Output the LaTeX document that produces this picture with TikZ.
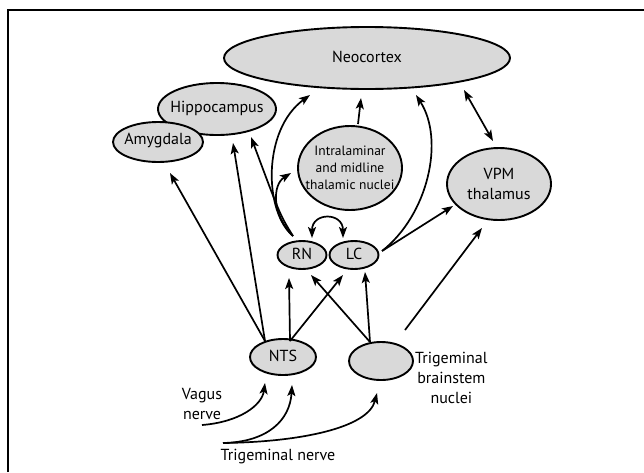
\documentclass[tikz,border=0pt]{standalone}
\usepackage{fontspec}
\setmainfont{PT Sans}
\usetikzlibrary{shapes.geometric,arrows.meta}
\begin{document}
\begin{tikzpicture}[x=1pt,y=-1pt,
  region/.style={ellipse,draw,fill=gray!30,line width=1.9pt,inner sep=0pt},
  txt/.style={font=\fontsize{16}{20}\selectfont,align=center,inner sep=0pt},
  small/.style={font=\fontsize{13.5}{17}\selectfont,align=center,inner sep=0pt},
  conn/.style={line width=1.7pt,-{Stealth[length=11pt,width=8pt,inset=2.5pt]}},
  biconn/.style={line width=1.7pt,{Stealth[length=11pt,width=8pt,inset=2.5pt]}-{Stealth[length=11pt,width=8pt,inset=2.5pt]}}]
\useasboundingbox (0,0) rectangle (644,472);
\draw[line width=1.5pt] (8,472) -- (8,10) -- (644,10);
% regions
\node[region,minimum width=286,minimum height=62] (neo) at (367,58) {};
\node[txt] (neot) at (367,57) {Neocortex};
\node[region,minimum width=118,minimum height=52] (hip) at (217,109) {};
\node[txt] (hipt) at (217,108) {Hippocampus};
\node[region,minimum width=90,minimum height=40] (amy) at (158,142) {};
\node[txt] (amyt) at (158,141) {Amygdala};
\node[region,minimum width=104,minimum height=84] (intra) at (350,168) {};
\node[small] (intrat) at (350,168) {Intralaminar\\and midline\\thalamic nuclei};
\node[region,minimum width=104,minimum height=72] (vpm) at (499,184) {};
\node[txt] (vpmt) at (499,184) {VPM\\thalamus};
\node[region,minimum width=49,minimum height=28] (rn) at (302,255) {};
\node[txt] (rnt) at (302,254) {RN};
\node[region,minimum width=49,minimum height=28] (lc) at (354,255) {};
\node[txt] (lct) at (354,254) {LC};
\node[region,minimum width=66,minimum height=36] (nts) at (283,357) {};
\node[txt] (ntst) at (283,356) {NTS};
\node[region,minimum width=64,minimum height=38] (tbn) at (381,361) {};
\node[txt,anchor=west,align=center] (tbnt) at (415,378) {Trigeminal\\brainstem\\nuclei};
\node[txt] (vagt) at (202,404) {Vagus\\nerve};
\node[txt] (trigt) at (278,457) {Trigeminal nerve};
% coordinates
\coordinate (s) at (293,236);
\coordinate (t) at (382,251);
\coordinate (na) at (265,341);
\coordinate (nb) at (290,341);
\coordinate (ba) at (370,342);
\coordinate (bb) at (405,330);
\coordinate (amyin) at (170,173);
\coordinate (hipin1) at (233,143);
\coordinate (hipin2) at (251,137);
\coordinate (neoin1) at (310,95);
\coordinate (neoin2) at (361,98);
\coordinate (neoin3) at (416,95);
\coordinate (neoin4) at (464,90);
\coordinate (intrain) at (291,173);
\coordinate (intraout) at (358,124);
\coordinate (vpmin1) at (453,206);
\coordinate (vpmin2) at (493,141);
\coordinate (vpmin3) at (482,228);
\coordinate (rnin1) at (289,278);
\coordinate (rnin2) at (311,275);
\coordinate (lcin1) at (343,275);
\coordinate (lcin2) at (365,272);
\coordinate (rntop) at (312,238);
\coordinate (lctop) at (343,238);
\coordinate (vagstart) at (202,425);
\coordinate (trigstart) at (223,443);
\coordinate (ntsin1) at (265,383);
\coordinate (ntsin2) at (292,385);
\coordinate (tbnin) at (377,393);
% connectors
\draw[conn] (na) -- (amyin);
\draw[conn] (na) -- (hipin1);
\draw[conn] (s) .. controls (280,215) .. (hipin2);
\draw[conn] (s) .. controls (264,212) and (262,130) .. (neoin1);
\draw[conn] (s) .. controls (272,215) and (272,185) .. (intrain);
\draw[conn] (intraout) -- (neoin2);
\draw[conn] (t) .. controls (428,215) and (445,140) .. (neoin3);
\draw[conn] (t) -- (vpmin1);
\draw[biconn] (vpmin2) -- (neoin4);
\draw[biconn] (rntop) .. controls (312,212) and (343,212) .. (lctop);
\draw[conn] (nb) -- (rnin1);
\draw[conn] (nb) -- (lcin1);
\draw[conn] (ba) -- (lcin2);
\draw[conn] (ba) -- (rnin2);
\draw[conn] (bb) -- (vpmin3);
\draw[conn] (vagstart) .. controls (240,422) and (262,405) .. (ntsin1);
\draw[conn] (trigstart) .. controls (268,442) and (290,420) .. (ntsin2);
\draw[conn] (trigstart) .. controls (300,442) and (368,428) .. (tbnin);
\end{tikzpicture}
\end{document}
